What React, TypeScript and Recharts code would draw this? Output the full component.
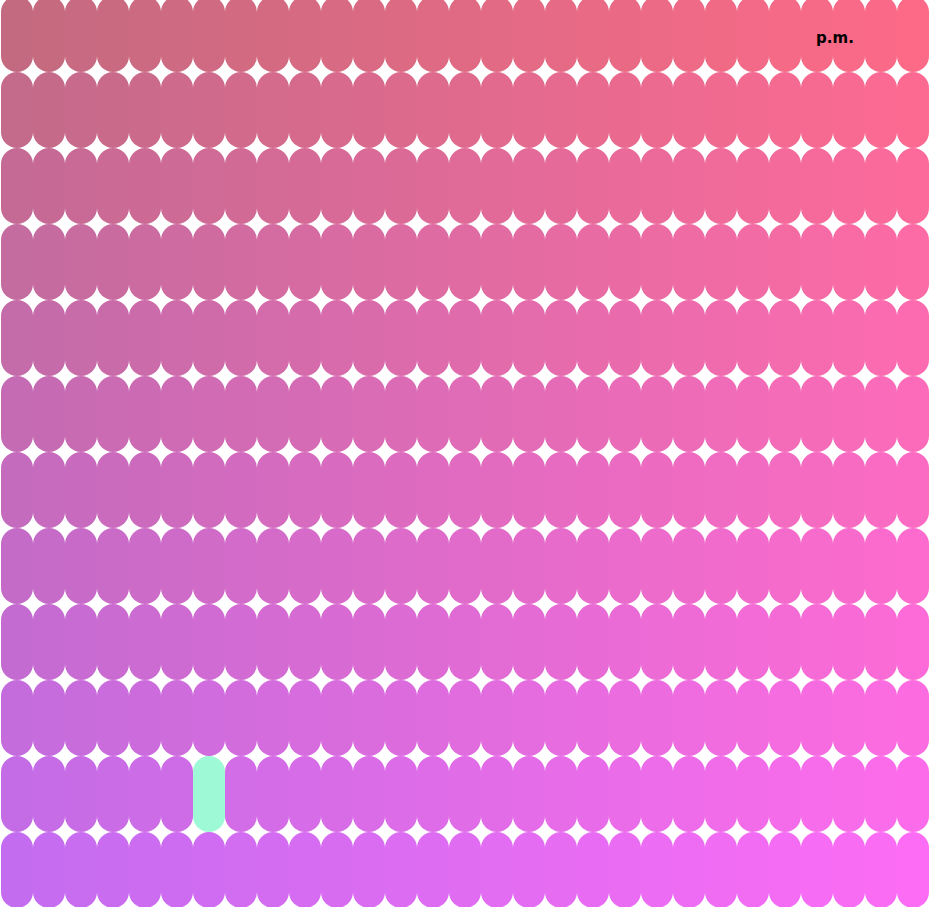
import { Bar, BarChart, Cell, XAxis, YAxis } from "recharts";

// 29 columns x 12 rows, every slot counts as one unit
const COLUMNS = Array.from({ length: 29 }, (_, i) => `c${i + 1}`);
const ROWS = ["r1", "r2", "r3", "r4", "r5", "r6", "r7", "r8", "r9", "r10", "r11", "r12"];
const SLOT_VALUE = [1, 1, 1, 1, 1, 1, 1, 1, 1, 1, 1, 1];
const HIGHLIGHT = { col: "c7", row: "r11" };
const CORNER_LABEL = "p.m.";

// corner colours of the gradient (top-left, top-right, bottom-left, bottom-right)
const TL = [196, 106, 128];
const TR = [252, 106, 136];
const BL = [196, 108, 240];
const BR = [252, 108, 244];
const HIGHLIGHT_COLOR = "#9ef9d6";

const data = COLUMNS.map((col) => {
  const row: Record<string, string | number> = { col };
  ROWS.forEach((r, i) => {
    row[r] = SLOT_VALUE[i];
  });
  return row;
});

function mix(a: number, b: number, t: number) {
  return a + (b - a) * t;
}

function cellColor(colIdx: number, rowIdx: number) {
  const tx = colIdx / (COLUMNS.length - 1);
  const ty = rowIdx / (ROWS.length - 1);
  const c = [0, 1, 2].map((k) =>
    Math.round(mix(mix(TL[k], TR[k], tx), mix(BL[k], BR[k], tx), ty)),
  );
  return `rgb(${c[0]},${c[1]},${c[2]})`;
}

// stack bottom-up, so the last row is drawn first
const STACK_ORDER = [...ROWS].reverse();

export default function App() {
  return (
    <div
      style={{
        position: "absolute",
        left: 0,
        top: 0,
        width: 929,
        height: 907,
        overflow: "hidden",
        background: "#fff",
      }}
    >
      <div style={{ position: "absolute", left: 1, top: -4 }}>
        <BarChart
          width={928}
          height={912}
          data={data}
          margin={{ top: 0, right: 0, bottom: 0, left: 0 }}
          barCategoryGap={0}
          barGap={0}
        >
          <XAxis dataKey="col" hide />
          <YAxis hide domain={[0, ROWS.length]} />
          {STACK_ORDER.map((r) => {
            const rowIdx = ROWS.indexOf(r);
            return (
              <Bar key={r} dataKey={r} stackId="grid" radius={16} isAnimationActive={false}>
                {COLUMNS.map((col, colIdx) => (
                  <Cell
                    key={col}
                    fill={
                      col === HIGHLIGHT.col && r === HIGHLIGHT.row
                        ? HIGHLIGHT_COLOR
                        : cellColor(colIdx, rowIdx)
                    }
                  />
                ))}
              </Bar>
            );
          })}
        </BarChart>
      </div>
      <div
        style={{
          position: "absolute",
          left: 795,
          top: 29,
          width: 80,
          textAlign: "center",
          fontFamily: "'DejaVu Sans', sans-serif",
          fontWeight: 700,
          fontSize: 15,
          color: "#000",
        }}
      >
        {CORNER_LABEL}
      </div>
    </div>
  );
}
